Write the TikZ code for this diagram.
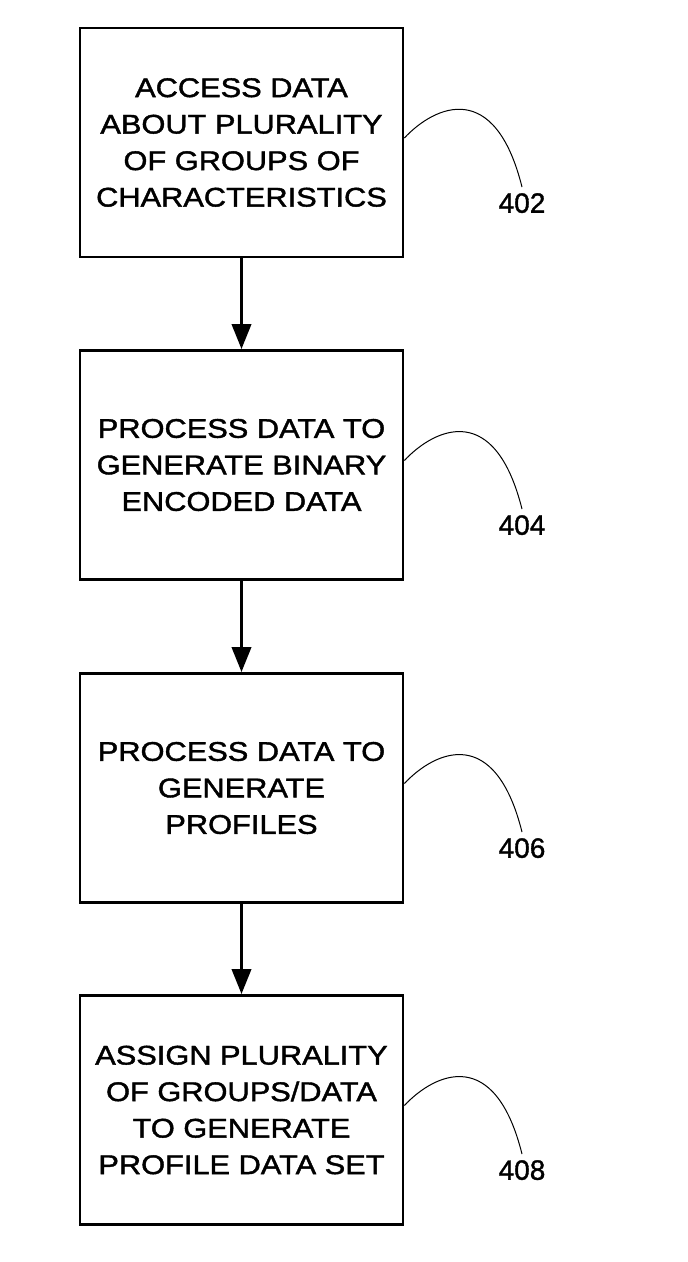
\documentclass[tikz,border=0pt]{standalone}
\usepackage{fontspec}
\setmainfont{Liberation Sans}
\newfontfamily\boxfont{Liberation Sans}[FakeStretch=1.14,FakeBold=1.5]
\newfontfamily\lblfont{Liberation Sans}[FakeBold=1.2]
\usetikzlibrary{arrows.meta}
\begin{document}
\begin{tikzpicture}[x=1pt,y=-1pt,
  stepbox/.style={draw, line width=2.7pt, minimum width=323pt, minimum height=229pt,
    align=center, inner sep=0pt, font=\boxfont\fontsize{27}{36.5}\selectfont},
  flow/.style={line width=3.6pt, -{Triangle[length=25pt,width=19pt]}},
  leader/.style={line width=1pt},
  lbl/.style={font=\lblfont\fontsize{28}{30}\selectfont, inner sep=6pt, anchor=north}]
\useasboundingbox (0,0) rectangle (688,1262);
\fill[white] (0,0) rectangle (688,1262);

\node[stepbox] (b1) at (241.5,142.5) {ACCESS DATA\\ABOUT PLURALITY\\OF GROUPS OF\\CHARACTERISTICS};
\node[stepbox] (b2) at (241.5,465) {PROCESS DATA TO\\GENERATE BINARY\\ENCODED DATA};
\node[stepbox] (b3) at (241.5,788) {PROCESS DATA TO\\GENERATE\\PROFILES};
\node[stepbox] (b4) at (241.5,1110) {ASSIGN PLURALITY\\OF GROUPS/DATA\\TO GENERATE\\PROFILE DATA SET};

\node[lbl] (l402) at (522,187) {402};
\node[lbl] (l404) at (522,509) {404};
\node[lbl] (l406) at (522,832) {406};
\node[lbl] (l408) at (522,1154) {408};

\draw[flow] (b1) -- (b2);
\draw[flow] (b2) -- (b3);
\draw[flow] (b3) -- (b4);

\draw[leader] ([yshift=4.5pt]b1.east) .. controls +(31,-33) and +(-27,-108) .. (l402.north);
\draw[leader] ([yshift=4.5pt]b2.east) .. controls +(31,-33) and +(-27,-108) .. (l404.north);
\draw[leader] ([yshift=4.5pt]b3.east) .. controls +(31,-33) and +(-27,-108) .. (l406.north);
\draw[leader] ([yshift=4.5pt]b4.east) .. controls +(31,-33) and +(-27,-108) .. (l408.north);
\end{tikzpicture}
\end{document}
